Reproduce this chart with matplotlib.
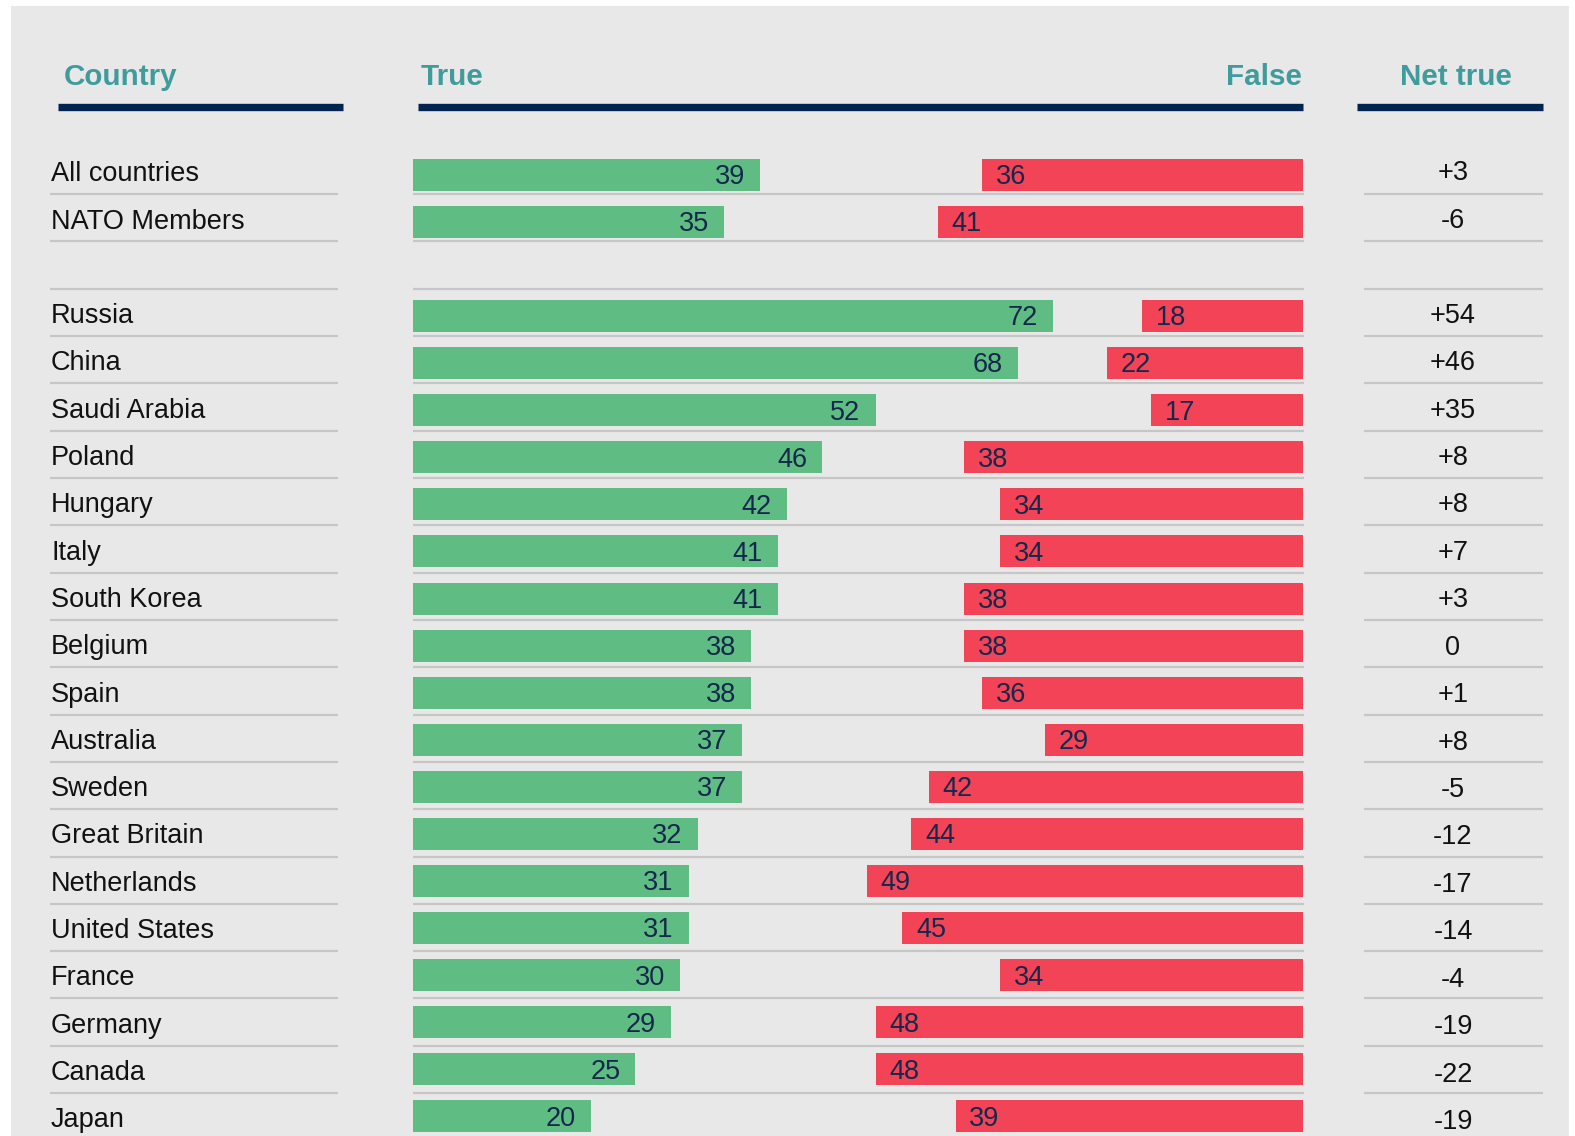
import matplotlib
matplotlib.use("Agg")
import matplotlib.pyplot as plt
from matplotlib.patches import Rectangle

plt.rcParams['font.family'] = ['Liberation Sans', 'DejaVu Sans']

# ---------------- data ----------------
countries = ["All countries", "NATO Members", "Russia", "China", "Saudi Arabia",
             "Poland", "Hungary", "Italy", "South Korea", "Belgium", "Spain",
             "Australia", "Sweden", "Great Britain", "Netherlands",
             "United States", "France", "Germany", "Canada", "Japan"]
true_vals = [39, 35, 72, 68, 52, 46, 42, 41, 41, 38, 38, 37, 37, 32, 31, 31, 30, 29, 25, 20]
false_vals = [36, 41, 18, 22, 17, 38, 34, 34, 38, 38, 36, 29, 42, 44, 49, 45, 34, 48, 48, 39]
net_labels = ["+3", "-6", "+54", "+46", "+35", "+8", "+8", "+7", "+3", "0", "+1",
              "+8", "-5", "-12", "-17", "-14", "-4", "-19", "-22", "-19"]
headers = ["Country", "True", "False", "Net true"]

# ---------------- styling ----------------
W, H = 1575, 1136
BG = "#e8e8e8"
GREEN = "#5fbd84"
RED = "#f24456"
NAVY = "#002350"
TEAL = "#409c9c"
SEP = "#c6c6c6"
VALTXT = "#14284b"

y0, step = 174.8, 47.08
def px2row(p):
    return (p - y0) / step

ylim = (px2row(H), px2row(0))

fig = plt.figure(figsize=(W / 100, H / 100), dpi=100, facecolor="white")

bg = fig.add_axes([0, 0, 1, 1])
bg.set_xlim(0, W)
bg.set_ylim(*ylim)
bg.axis("off")
bg.add_patch(Rectangle((11, px2row(6)), 1558, 30, facecolor=BG, edgecolor="none", zorder=0))

# row positions (one blank row after NATO Members)
rows = [0, 1] + list(range(3, 3 + len(countries) - 2))

# separators (table rows run slightly taller than the bar rows)
for r in range(0, rows[-1]):
    yy = r + 0.41 + 0.005 * r
    for x1, x2 in [(50, 338), (413, 1304), (1364, 1543)]:
        bg.plot([x1, x2], [yy, yy], color=SEP, lw=1.6, solid_capstyle="butt", zorder=1)

# header rules
hy = px2row(107)
for x1, x2 in [(58, 343), (418, 1303), (1357, 1543)]:
    bg.plot([x1, x2], [hy, hy], color=NAVY, lw=5.3, solid_capstyle="butt", zorder=2)

# headers
hb = px2row(85)
hkw = dict(color=TEAL, fontsize=21.3, fontweight="bold", va="baseline")
bg.text(64, hb, headers[0], ha="left", **hkw)
bg.text(421, hb, headers[1], ha="left", **hkw)
bg.text(1302, hb, headers[2], ha="right", **hkw)
bg.text(1456, hb, headers[3], ha="center", **hkw)

# country labels and net values
for r, name, net in zip(rows, countries, net_labels):
    bg.text(51, r - 0.01 + 0.0045 * r, name, ha="left", va="center",
            fontsize=19.5, color="#111111", zorder=3)
    bg.text(1453, r - 0.03 + 0.0075 * r, net, ha="center", va="center",
            fontsize=19.5, color="#111111", zorder=3)

# bars
ax = fig.add_axes([413 / W, 0, 889.5 / W, 1])
ax.set_xlim(0, 100)
ax.set_ylim(*ylim)
ax.axis("off")
ax.patch.set_alpha(0)

ax.barh(rows, true_vals, height=0.68, color=GREEN, zorder=2)
ax.barh(rows, false_vals, left=[100 - f for f in false_vals], height=0.68, color=RED, zorder=2)

for r, t, f in zip(rows, true_vals, false_vals):
    ax.text(t - 1.7, r + 0.05, str(t), ha="right", va="center", fontsize=19.5, color=VALTXT, zorder=3)
    ax.text(100 - f + 1.55, r + 0.05, str(f), ha="left", va="center", fontsize=19.5, color=VALTXT, zorder=3)

fig.savefig("out.png", dpi=100, facecolor="white")
